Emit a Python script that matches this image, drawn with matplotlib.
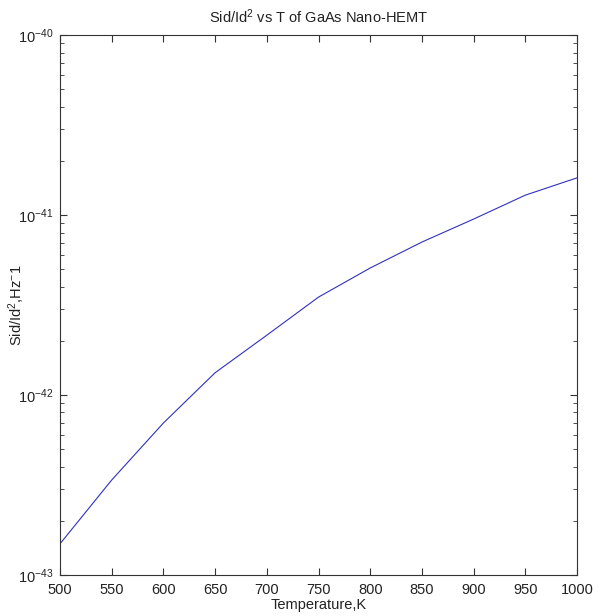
import matplotlib
matplotlib.use("Agg")
import matplotlib.pyplot as plt
import numpy as np

temperature = [500, 550, 600, 650, 700, 750, 800, 850, 900, 950, 1000]
noise = [1.49e-43, 3.37e-43, 6.99e-43, 1.33e-42, 2.15e-42, 3.50e-42,
         5.08e-42, 7.08e-42, 9.5e-42, 1.29e-41, 1.61e-41]
xticks = [500, 550, 600, 650, 700, 750, 800, 850, 900, 950, 1000]

plt.rcParams['font.family'] = ['Liberation Sans', 'DejaVu Sans']
plt.rcParams['mathtext.fontset'] = 'custom'
plt.rcParams['mathtext.rm'] = 'Liberation Sans'
plt.rcParams['mathtext.it'] = 'Liberation Sans'

fig = plt.figure(figsize=(6.0, 6.16), dpi=100)
ax = fig.add_axes([0.1, 0.0666, 0.8617, 0.8764])
ax.plot(temperature, noise, color='#3030c0', linewidth=0.8)
ax.set_yscale('log')
ax.set_xlim(500, 1000)
ax.set_ylim(1e-43, 1e-40)
ax.set_xticks(xticks)
ax.set_xticklabels([str(t) for t in xticks])
ax.set_yticks([1e-43, 1e-42, 1e-41, 1e-40])
ax.tick_params(which='both', direction='in', top=True, right=True,
               labelsize=10.5, colors='#333333', labelcolor='#222222')
ax.tick_params(axis='x', which='major', pad=6)
ax.tick_params(axis='y', which='major', pad=5)
ax.tick_params(which='major', length=5)
ax.tick_params(which='minor', length=3)
for s in ax.spines.values():
    s.set_color('#333333')
    s.set_linewidth(0.8)
ax.set_title('Sid/Id$^2$ vs T of GaAs Nano-HEMT', fontsize=10.5, color='#222222', pad=9)
ax.set_xlabel('Temperature,K', fontsize=10.5, color='#222222', labelpad=0.5)
ax.set_ylabel('Sid/Id$^2$,Hz$^{-}$1', fontsize=10.5, color='#222222')
ax.yaxis.set_label_coords(-0.064, 0.5)
fig.savefig('out.png', dpi=100)
